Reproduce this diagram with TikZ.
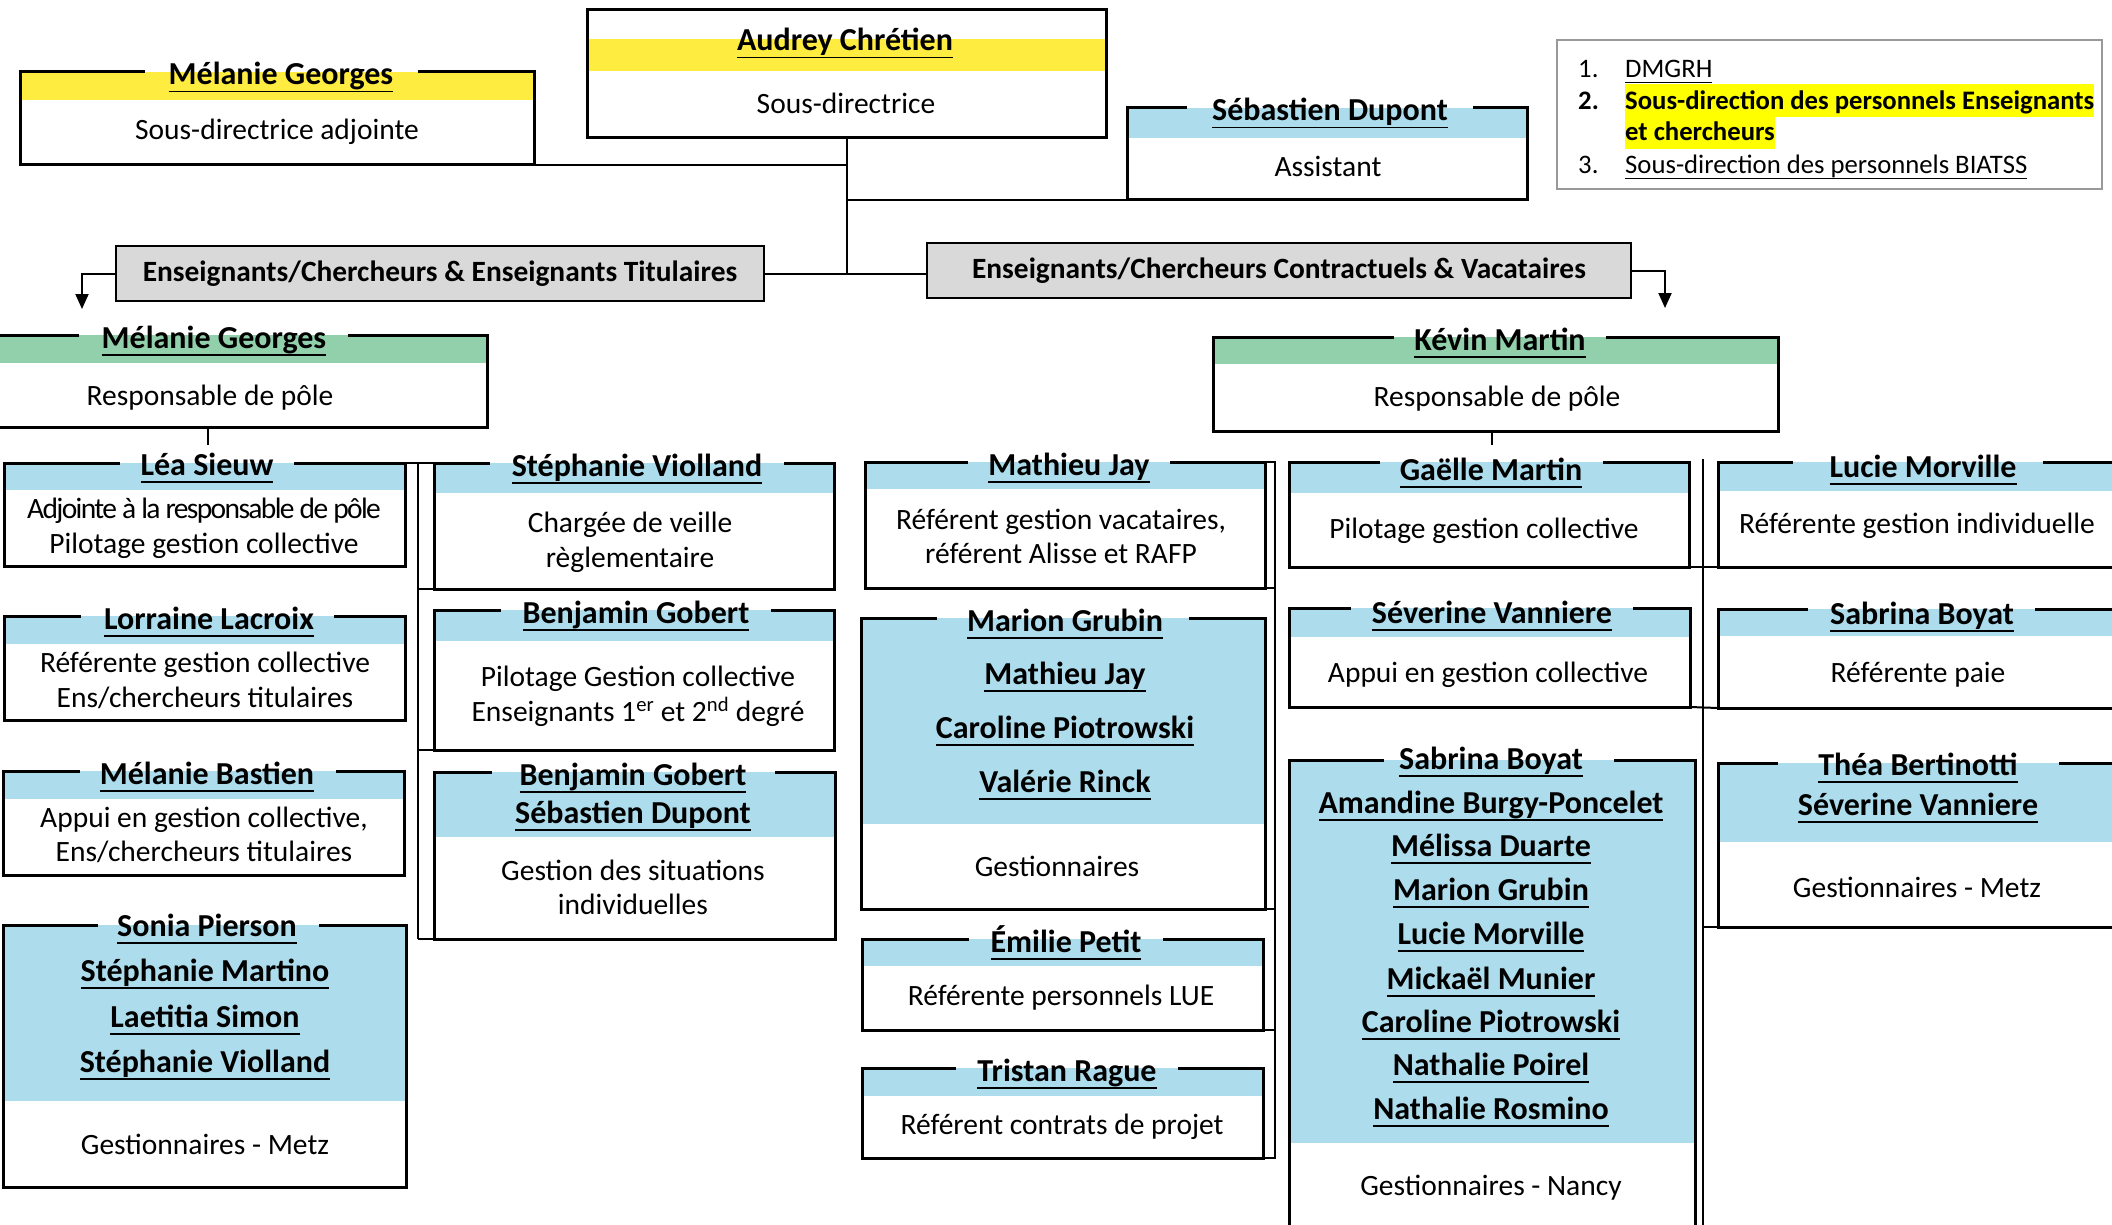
\documentclass[tikz,border=0pt]{standalone}
\usepackage{fontspec}
\setmainfont{Carlito}
\usetikzlibrary{arrows.meta,fit}
\definecolor{bandY}{HTML}{FFEC40}
\definecolor{bandB}{HTML}{ADDDED}
\definecolor{bandG}{HTML}{92D0AB}
\definecolor{grayfill}{HTML}{D9D9D9}
\definecolor{hlY}{HTML}{FFFF00}
\definecolor{legendgray}{HTML}{999999}
\newcommand\ulname[1]{\setbox0=\hbox{#1}\rlap{\rule[-7.5pt]{\wd0}{1.8pt}}\box0}
\newcommand\ulsmall[1]{\setbox0=\hbox{#1}\rlap{\rule[-5.5pt]{\wd0}{1.3pt}}\box0}
\tikzset{
  boxline/.style={line width=3pt, black},
  conn/.style={line width=2pt, black},
  tname/.style={font=\fontsize{32}{38}\selectfont\bfseries, inner sep=0, anchor=base, yshift=-2pt},
  tbody/.style={font=\fontsize{29.5}{35}\selectfont, inner sep=0, anchor=base, yshift=-1pt},
  tleg/.style={font=\fontsize{26.7}{32}\selectfont, inner sep=0, anchor=base west},
  tlegb/.style={tleg, font=\fontsize{26.7}{32}\selectfont\bfseries},
  graybox/.style={draw, line width=2.5pt, fill=grayfill, inner sep=0,
    font=\fontsize{29.4}{34}\selectfont\bfseries},
  arr/.style={conn, -{Triangle[length=15pt,width=13pt]}},
}
% #1 name, #2 L, #3 T, #4 R, #5 B, #6 band bottom, #7 colour, #8 gap left, #9 gap right
\newcommand\obox[9]{%
  \fill[#7] (#2,#3) rectangle (#4,#6);
  \draw[boxline] (#9,#3) -- (#4,#3) -- (#4,#5) -- (#2,#5) -- (#2,#3) -- (#8,#3);
  \path (#2,#3) coordinate (#1-nw) (#4,#5) coordinate (#1-se);
  \node[inner sep=0, outer sep=0, fit=(#1-nw)(#1-se)] (#1) {};
}
\newcommand\nm[4]{\node[tname] (#1) at (#2,#3) {\ulname{#4}};}
\newcommand\bd[4]{\node[tbody] (#1) at (#2,#3) {#4};}
\begin{document}
\begin{tikzpicture}[x=1pt,y=-1pt]
\useasboundingbox (0,0) rectangle (2112,1225);
\clip (0,0) rectangle (2112,1225);
\fill[white] (0,0) rectangle (2112,1225);

% ---------- top level ----------
\fill[bandY] (587,39) rectangle (1106,71);
\draw[boxline] (587,10) rectangle (1106,138);
\path (587,10) coordinate (audrey-nw) (1106,138) coordinate (audrey-se);
\node[inner sep=0, outer sep=0, fit=(audrey-nw)(audrey-se)] (audrey) {};
\nm{audrey-t}{845}{49}{Audrey Chrétien}
\bd{audrey-b}{846}{113}{Sous-directrice}

\obox{melTop}{20}{72}{534}{165}{100}{bandY}{145}{418}
\nm{melTop-t}{281}{83}{Mélanie Georges}
\bd{melTop-b}{277}{139}{Sous-directrice adjointe}

\obox{sebastien}{1127}{108}{1527}{200}{138}{bandB}{1187}{1473}
\nm{sebastien-t}{1330}{119}{Sébastien Dupont}
\bd{sebastien-b}{1328}{176}{Assistant}

% legend
\node[draw=legendgray, line width=2pt, minimum width=545pt, minimum height=149pt, inner sep=0] (legend) at (1829.5,114.5) {};
\node[tleg] (leg1n) at (1578,78) {1.};
\node[tleg] (leg1) at (1625,78) {\ulsmall{DMGRH}};
\node[tlegb] (leg2n) at (1578,110) {2.};
\node[tlegb, fill=hlY, text height=26pt, text depth=7pt] (leg2a) at (1625,110) {Sous-direction des personnels Enseignants};
\node[tlegb, fill=hlY, text height=24pt, text depth=8pt] (leg2b) at (1625,141) {et chercheurs};
\node[tleg] (leg3n) at (1578,174) {3.};
\node[tleg] (leg3) at (1625,174) {\ulsmall{Sous-direction des personnels BIATSS}};

% grey category boxes
\node[graybox, minimum width=648pt, minimum height=55pt] (gray1) at (440,273.5) {Enseignants/Chercheurs \& Enseignants Titulaires};
\node[graybox, minimum width=704pt, minimum height=55pt] (gray2) at (1279,270.5) {Enseignants/Chercheurs Contractuels \& Vacataires};

% top connectors
\draw[conn] (audrey.south) -- (audrey.south |- gray1.east);
\draw[conn] (melTop.south east) -- (melTop.south east -| audrey.south);
\draw[conn] (sebastien.south west) -- (sebastien.south west -| audrey.south);
\draw[conn] (gray1.east) -- (gray1.east -| gray2.west);
\coordinate (arrL) at (82,309);
\coordinate (arrR) at (1665,308);
\draw[arr] (gray1.west) -| (arrL);
\draw[arr] (gray2.east) -| (arrR);

% ---------- poles ----------
\obox{melPole}{-70}{335}{487}{427}{363}{bandG}{79}{348}
\nm{melPole-t}{214}{346}{Mélanie Georges}
\bd{melPole-b}{210}{404}{Responsable de pôle}

\obox{kevin}{1213}{337}{1778}{431}{364}{bandG}{1394}{1606}
\nm{kevin-t}{1500}{348}{Kévin Martin}
\bd{kevin-b}{1497}{405}{Responsable de pôle}

\coordinate (melStub) at (208,445);
\coordinate (kevStub) at (1492,445);
\draw[conn] (melPole.south -| melStub) -- (melStub);
\draw[conn] (kevin.south -| kevStub) -- (kevStub);

% ---------- left group, column 1 ----------
\obox{lea}{4}{463}{405}{566}{490}{bandB}{120}{294}
\nm{lea-t}{207}{473}{Léa Sieuw}
\node[tbody, font=\fontsize{29.5}{35}\selectfont\addfontfeature{LetterSpace=-5.5}] (lea-b1) at (204,517) {Adjointe à la responsable de pôle};
\bd{lea-b2}{204}{552}{Pilotage gestion collective}

\obox{lorraine}{4}{616}{405}{720}{644}{bandB}{81}{334}
\nm{lorraine-t}{209}{627}{Lorraine Lacroix}
\bd{lorraine-b1}{205}{671}{Référente gestion collective}
\bd{lorraine-b2}{205}{706}{Ens/chercheurs titulaires}

\obox{mbastien}{3}{771}{404}{875}{799}{bandB}{80}{336}
\nm{mbastien-t}{207}{782}{Mélanie Bastien}
\bd{mbastien-b1}{204}{826}{Appui en gestion collective,}
\bd{mbastien-b2}{204}{860}{Ens/chercheurs titulaires}

\obox{sonia}{3}{925}{406}{1187}{1101}{bandB}{98}{319}
\nm{sonia-t1}{207}{934}{Sonia Pierson}
\nm{sonia-t2}{205}{979}{Stéphanie Martino}
\nm{sonia-t3}{205}{1025}{Laetitia Simon}
\nm{sonia-t4}{205}{1070}{Stéphanie Violland}
\bd{sonia-b}{205}{1153}{Gestionnaires - Metz}

% ---------- left group, column 2 ----------
\obox{stephanie}{434}{463}{834}{589}{493}{bandB}{490}{784}
\nm{stephanie-t}{637}{474}{Stéphanie Violland}
\bd{stephanie-b1}{630}{531}{Chargée de veille}
\bd{stephanie-b2}{630}{566}{règlementaire}

\obox{benj1}{434}{610}{834}{750}{641}{bandB}{501}{771}
\nm{benj1-t}{636}{621}{Benjamin Gobert}
\bd{benj1-b1}{638}{685}{Pilotage Gestion collective}
\bd{benj1-b2}{638}{720}{Enseignants 1\textsuperscript{er} et 2\textsuperscript{nd} degré}

\obox{benj2}{434}{772}{835}{939}{837}{bandB}{492}{775}
\nm{benj2-t1}{633}{783}{Benjamin Gobert}
\nm{benj2-t2}{633}{821}{Sébastien Dupont}
\bd{benj2-b1}{633}{879}{Gestion des situations}
\bd{benj2-b2}{633}{913}{individuelles}

% left spine
\coordinate (lsTop) at (418,463);
\coordinate (lsBot) at (418,939);
\draw[conn] (lea.north east) -- (stephanie.north west);
\draw[conn] (lsTop) -- (lsBot);
\draw[conn] (stephanie.south west -| lsTop) -- (stephanie.south west);
\draw[conn] (benj1.south west -| lsTop) -- (benj1.south west);
\draw[conn] (lsBot) -- (benj2.south west);

% ---------- right group, column 1 ----------
\obox{mathieu}{865}{462}{1265}{588}{489}{bandB}{968}{1170}
\nm{mathieu-t}{1069}{473}{Mathieu Jay}
\bd{mathieu-b1}{1061}{528}{Référent gestion vacataires,}
\bd{mathieu-b2}{1061}{562}{référent Alisse et RAFP}

\obox{marion}{861}{618}{1265}{909}{824}{bandB}{937}{1189}
\nm{marion-t1}{1065}{629}{Marion Grubin}
\nm{marion-t2}{1065}{682}{Mathieu Jay}
\nm{marion-t3}{1065}{736}{Caroline Piotrowski}
\nm{marion-t4}{1065}{790}{Valérie Rinck}
\bd{marion-b}{1057}{875}{Gestionnaires}

\obox{emilie}{862}{939}{1263}{1030}{966}{bandB}{969}{1163}
\nm{emilie-t}{1066}{950}{Émilie Petit}
\bd{emilie-b}{1061}{1004}{Référente personnels LUE}

\obox{tristan}{862}{1068}{1263}{1158}{1096}{bandB}{956}{1178}
\nm{tristan-t}{1067}{1079}{Tristan Rague}
\bd{tristan-b}{1062}{1133}{Référent contrats de projet}

\coordinate (msTop) at (1275,462);
\coordinate (msBot) at (1275,1158);
\draw[conn] (mathieu.north east) -- (msTop) -- (msBot) -- (tristan.south east);
\draw[conn] (mathieu.south east) -- (mathieu.south east -| msTop);
\draw[conn] (marion.south east) -- (marion.south east -| msTop);
\draw[conn] (emilie.south east) -- (emilie.south east -| msTop);

% ---------- right group, column 2 ----------
\obox{gaelle}{1289}{462}{1689}{567}{493}{bandB}{1380}{1603}
\nm{gaelle-t}{1491}{478}{Gaëlle Martin}
\bd{gaelle-b}{1484}{537}{Pilotage gestion collective}

\obox{severine}{1289}{608}{1690}{707}{637}{bandB}{1351}{1633}
\nm{severine-t}{1492}{621}{Séverine Vanniere}
\bd{severine-b}{1488}{681}{Appui en gestion collective}

\obox{sabrinaN}{1289}{760}{1695}{1250}{1143}{bandB}{1384}{1614}
\nm{sabrinaN-t1}{1491}{767}{Sabrina Boyat}
\nm{sabrinaN-t2}{1491}{811}{Amandine Burgy-Poncelet}
\nm{sabrinaN-t3}{1491}{854}{Mélissa Duarte}
\nm{sabrinaN-t4}{1491}{898}{Marion Grubin}
\nm{sabrinaN-t5}{1491}{942}{Lucie Morville}
\nm{sabrinaN-t6}{1491}{987}{Mickaël Munier}
\nm{sabrinaN-t7}{1491}{1030}{Caroline Piotrowski}
\nm{sabrinaN-t8}{1491}{1073}{Nathalie Poirel}
\nm{sabrinaN-t9}{1491}{1117}{Nathalie Rosmino}
\bd{sabrinaN-b}{1491}{1194}{Gestionnaires - Nancy}

% ---------- right group, column 3 ----------
\obox{lucie}{1718}{462}{2140}{567}{491}{bandB}{1793}{2043}
\nm{lucie-t}{1923}{475}{Lucie Morville}
\bd{lucie-b}{1917}{532}{Référente gestion individuelle}

\obox{sabrinaR}{1718}{609}{2140}{708}{636}{bandB}{1808}{2035}
\nm{sabrinaR-t}{1922}{622}{Sabrina Boyat}
\bd{sabrinaR-b}{1918}{681}{Référente paie}

\obox{thea}{1718}{763}{2140}{927}{842}{bandB}{1778}{2059}
\nm{thea-t1}{1918}{773}{Théa Bertinotti}
\nm{thea-t2}{1918}{813}{Séverine Vanniere}
\bd{thea-b}{1917}{896}{Gestionnaires - Metz}

\coordinate (rsTop) at (1703,459);
\coordinate (rsBot) at (1703,1230);
\draw[conn] (rsTop) -- (rsBot);
\draw[conn] (gaelle.south east) -- (lucie.south west);
\draw[conn] (severine.south east) -- (sabrinaR.south west);
\draw[conn] (thea.south west -| rsTop) -- (thea.south west);
\end{tikzpicture}
\end{document}
